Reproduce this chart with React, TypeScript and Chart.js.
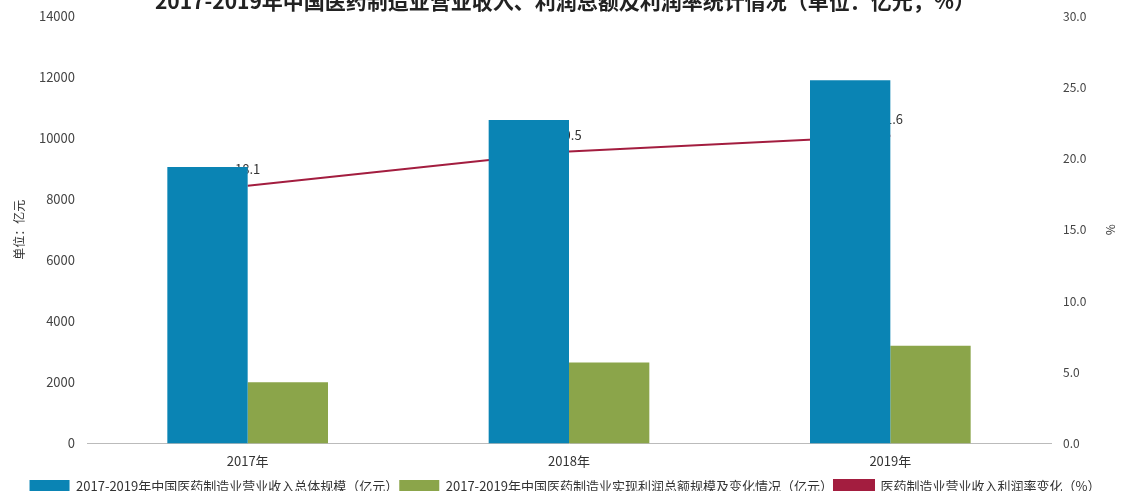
import React, { useEffect, useRef } from "react";
import { Chart, registerables } from "chart.js";

Chart.register(...registerables);

const categories = ["2017年", "2018年", "2019年"];
const revenueValues = [9060, 10600, 11900];
const profitValues = [2000, 2650, 3200];
const rateValues = [18.1, 20.5, 21.6];
const leftTicks = [0, 2000, 4000, 6000, 8000, 10000, 12000, 14000];
const rightTicks = [0, 5, 10, 15, 20, 25, 30];

const titleText = "2017-2019年中国医药制造业营业收入、利润总额及利润率统计情况（单位：亿元，%）";
const legendRevenue = "2017-2019年中国医药制造业营业收入总体规模（亿元）";
const legendProfit = "2017-2019年中国医药制造业实现利润总额规模及变化情况（亿元）";
const legendRate = "医药制造业营业收入利润率变化（%）";
const leftTitle = "单位：亿元";
const rightTitle = "%";

const FONT = '"Noto Sans CJK SC", "Noto Sans", sans-serif';

const lineLabelPlugin = {
  id: "lineLabels",
  afterDatasetDraw(chart: any, args: any) {
    if (args.index !== 2) return;
    const ctx = chart.ctx;
    ctx.save();
    ctx.font = `13px ${FONT}`;
    ctx.fillStyle = "#333333";
    ctx.textAlign = "center";
    ctx.textBaseline = "bottom";
    args.meta.data.forEach((pt: any, i: number) => {
      ctx.fillText(rateValues[i].toFixed(1), pt.x, pt.y - 10);
    });
    ctx.restore();
  },
};

export default function App() {
  const ref = useRef<HTMLCanvasElement | null>(null);
  useEffect(() => {
    if (!ref.current) return;
    Chart.defaults.font.family = FONT;
    const chart = new Chart(ref.current, {
      type: "bar",
      data: {
        labels: categories,
        datasets: [
          {
            type: "bar",
            label: legendRevenue,
            data: revenueValues,
            backgroundColor: "#0a84b4",
            yAxisID: "y",
            order: 0,
            categoryPercentage: 0.5,
            barPercentage: 1.0,
          },
          {
            type: "bar",
            label: legendProfit,
            data: profitValues,
            backgroundColor: "#8ba54a",
            yAxisID: "y",
            order: 0,
            categoryPercentage: 0.5,
            barPercentage: 1.0,
          },
          {
            type: "line",
            label: legendRate,
            data: rateValues,
            borderColor: "#a31d3f",
            backgroundColor: "#a31d3f",
            borderWidth: 2,
            pointRadius: 0,
            yAxisID: "y1",
            order: 1,
            tension: 0,
          },
        ],
      } as any,
      options: {
        responsive: false,
        animation: false,
        devicePixelRatio: 1,
        layout: { padding: { left: 8, right: 0, top: 0, bottom: 0 } },
        plugins: {
          title: {
            display: true,
            text: titleText,
            font: { size: 21, weight: "bold", family: FONT },
            color: "#222222",
            padding: { top: 0, bottom: 3 },
          },
          legend: {
            position: "bottom",
            labels: {
              font: { size: 13, family: FONT },
              color: "#333333",
              boxWidth: 40,
              boxHeight: 13,
              padding: 1,
            },
          },
          tooltip: { enabled: false },
        },
        scales: {
          x: {
            grid: { display: false, drawTicks: false },
            border: { display: true, color: "#bbbbbb" },
            ticks: { font: { size: 13, family: FONT }, color: "#333333", padding: 10 },
          },
          y: {
            position: "left",
            min: 0,
            max: 14000,
            afterBuildTicks: (scale: any) => {
              scale.ticks = leftTicks.map((v) => ({ value: v }));
            },
            afterFit: (scale: any) => {
              scale.width = 79;
            },
            grid: { display: false, drawTicks: false },
            border: { display: false },
            ticks: {
              font: { size: 13, family: FONT },
              color: "#444444",
              padding: 12,
              callback: (v: any) => String(v),
            },
            title: {
              display: true,
              text: leftTitle,
              font: { size: 12, family: FONT },
              color: "#333333",
            },
          },
          y1: {
            position: "right",
            min: 0,
            max: 30,
            afterBuildTicks: (scale: any) => {
              scale.ticks = rightTicks.map((v) => ({ value: v }));
            },
            afterFit: (scale: any) => {
              scale.width = 71;
            },
            grid: { display: false, drawTicks: false },
            border: { display: false },
            ticks: {
              font: { size: 12, family: FONT },
              color: "#444444",
              padding: 12,
              callback: (v: any) => Number(v).toFixed(1),
            },
            title: {
              display: true,
              text: rightTitle,
              font: { size: 12, family: FONT },
              color: "#333333",
            },
          },
        },
      } as any,
      plugins: [lineLabelPlugin],
    });
    return () => chart.destroy();
  }, []);
  return (
    <div style={{ position: "absolute", left: 0, top: -12, width: 1122, height: 515 }}>
      <canvas ref={ref} width={1122} height={515} style={{ width: 1122, height: 515, display: "block" }} />
    </div>
  );
}
